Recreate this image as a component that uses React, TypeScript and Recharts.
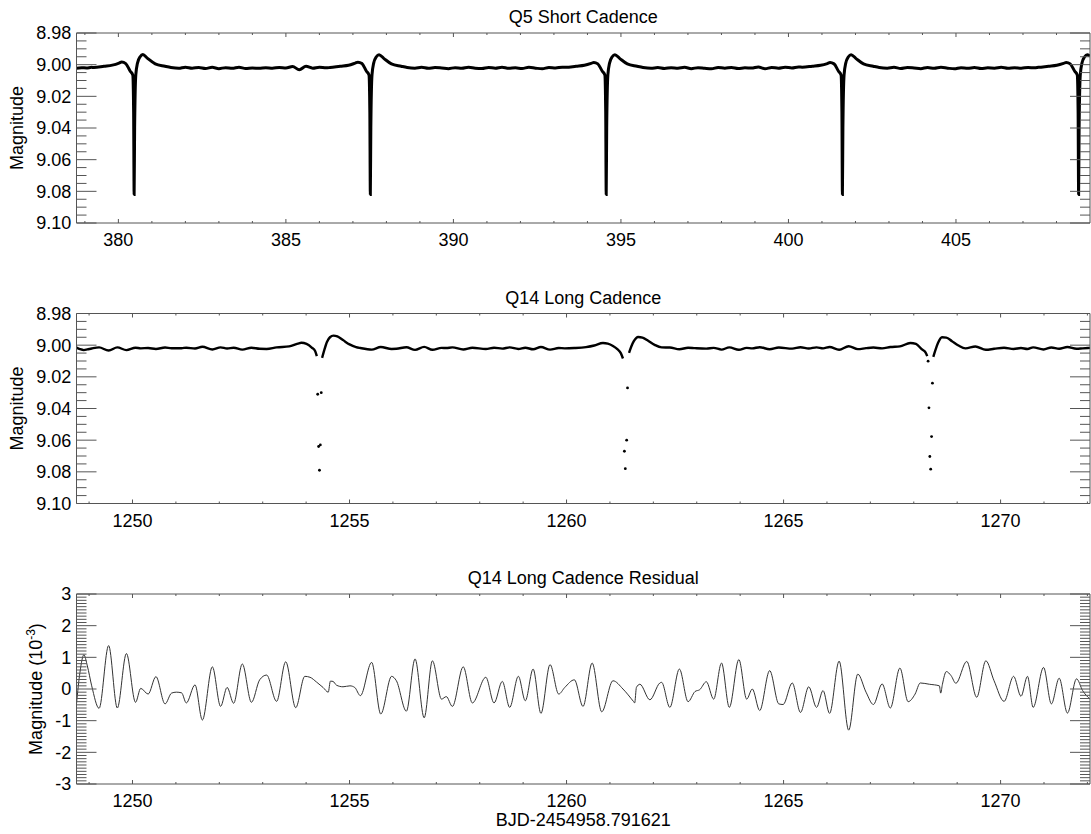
import React from 'react';
import { LineChart, ComposedChart, Line, Scatter, XAxis, YAxis } from 'recharts';

const FONT = "'Liberation Sans', Arial, Helvetica, sans-serif";
const AXIS = '#555';
const W = 1091;

// ---------------- Q5 Short Cadence ----------------
const q5Domain: [number, number] = [378.75, 409.0];
const q5XMajor = [380, 385, 390, 395, 400, 405];
const magDomain: [number, number] = [8.98, 9.1];
const magMajor = [8.98, 9.0, 9.02, 9.04, 9.06, 9.08, 9.1];

const q5Curve: [number, number][] = [
  [378.75, 9.0022], [378.9, 9.0019], [379.05, 9.0021], [379.2, 9.0017],
  [379.27, 9.0018], [379.57, 9.001], [379.82, 9.0003], [380.02, 8.999], [380.1, 8.9983], [380.22, 8.9993],
  [380.35, 9.004], [380.43, 9.0065], [380.455, 9.03], [380.47, 9.082], [380.485, 9.04], [380.52, 9.0065],
  [380.57, 8.999], [380.65, 8.995], [380.73, 8.9936], [380.87, 8.996], [381.1, 8.9995], [381.39, 9.001], [381.57, 9.0018],
  [381.8, 9.0023], [382.0, 9.0016], [382.2, 9.0022], [382.4, 9.0018], [382.6, 9.0024], [382.8, 9.0017],
  [383.0, 9.0025], [383.2, 9.0019], [383.4, 9.0023], [383.6, 9.0016], [383.8, 9.0024], [384.0, 9.0021],
  [384.2, 9.0023], [384.4, 9.0019], [384.6, 9.0022], [384.8, 9.0018], [385.0, 9.0021], [385.2, 9.0012],
  [385.4, 9.0032], [385.6, 9.001], [385.8, 9.0022], [386.0, 9.0016], [386.2, 9.002],
  [386.32, 9.0018], [386.62, 9.001], [386.87, 9.0004], [387.07, 8.999], [387.15, 8.9984], [387.27, 8.9993],
  [387.4, 9.004], [387.48, 9.0065], [387.505, 9.03], [387.52, 9.082], [387.535, 9.04], [387.57, 9.0065],
  [387.62, 8.999], [387.7, 8.995], [387.78, 8.9937], [387.92, 8.996], [388.15, 8.9995], [388.44, 9.001], [388.62, 9.0018],
  [388.85, 9.0022], [389.05, 9.0017], [389.25, 9.0023], [389.45, 9.0018], [389.65, 9.0021], [389.85, 9.0025],
  [390.05, 9.0019], [390.25, 9.0023], [390.45, 9.0017], [390.65, 9.0022], [390.85, 9.0024], [391.05, 9.0018],
  [391.25, 9.0022], [391.45, 9.0016], [391.65, 9.0023], [391.85, 9.002], [392.05, 9.0024], [392.25, 9.0017],
  [392.45, 9.0022], [392.65, 9.0026], [392.85, 9.0018], [393.05, 9.0021], [393.25, 9.0016],
  [393.36, 9.0017], [393.66, 9.001], [393.91, 9.0004], [394.11, 8.9992], [394.19, 8.9986], [394.31, 8.9995],
  [394.44, 9.004], [394.52, 9.0065], [394.545, 9.03], [394.56, 9.082], [394.575, 9.04], [394.61, 9.0065],
  [394.66, 8.999], [394.74, 8.995], [394.82, 8.9937], [394.96, 8.996], [395.19, 8.9995], [395.48, 9.001], [395.66, 9.0018],
  [395.9, 9.0023], [396.1, 9.0018], [396.3, 9.0024], [396.5, 9.0019], [396.7, 9.0022], [396.9, 9.0017],
  [397.1, 9.0025], [397.3, 9.0019], [397.5, 9.0023], [397.7, 9.0026], [397.9, 9.0018], [398.1, 9.0022],
  [398.3, 9.0018], [398.5, 9.0024], [398.7, 9.002], [398.9, 9.0021], [399.1, 9.0014], [399.3, 9.0026],
  [399.5, 9.0018], [399.7, 9.0022], [399.9, 9.0016], [400.1, 9.0021], [400.3, 9.0015],
  [400.41, 9.0016], [400.71, 9.001], [400.96, 9.0004], [401.16, 8.9993], [401.24, 8.9987], [401.36, 8.9995],
  [401.49, 9.004], [401.57, 9.0065], [401.595, 9.03], [401.61, 9.082], [401.625, 9.04], [401.66, 9.0065],
  [401.71, 8.999], [401.79, 8.995], [401.87, 8.9937], [402.01, 8.996], [402.24, 8.9995], [402.53, 9.001], [402.71, 9.0018],
  [402.95, 9.0022], [403.15, 9.0017], [403.35, 9.0024], [403.55, 9.0018], [403.75, 9.0021], [403.95, 9.0025],
  [404.15, 9.0018], [404.35, 9.0023], [404.55, 9.0017], [404.75, 9.0022], [404.95, 9.0026], [405.15, 9.0019],
  [405.35, 9.0023], [405.55, 9.0018], [405.75, 9.0024], [405.95, 9.002], [406.15, 9.0022], [406.35, 9.0017],
  [406.55, 9.0023], [406.75, 9.0019], [406.95, 9.0022], [407.15, 9.0018], [407.35, 9.002],
  [407.46, 9.0017], [407.76, 9.001], [408.01, 9.0004], [408.21, 8.9992], [408.29, 8.9986], [408.41, 8.9995],
  [408.54, 9.004], [408.62, 9.0065], [408.645, 9.03], [408.66, 9.082], [408.675, 9.04], [408.71, 9.0065],
  [408.76, 8.999], [408.84, 8.995], [408.92, 8.9937], [409.0, 8.9945],
];

// ---------------- Q14 Long Cadence ----------------
const q14Domain: [number, number] = [1248.71, 1272.06];
const q14XMajor = [1250, 1255, 1260, 1265, 1270];

const q14Curve: [number, number | null][] = [
  [1248.71, 9.0015], [1248.79, 9.0025], [1248.88, 9.0031], [1248.96, 9.0027], [1249.06, 9.0021], [1249.23, 9.0014],
  [1249.45, 9.0034], [1249.65, 9.0014], [1249.86, 9.0031], [1250.07, 9.0016], [1250.19, 9.002], [1250.36, 9.0018],
  [1250.54, 9.0024], [1250.75, 9.0015], [1250.9, 9.0019], [1251.13, 9.0019], [1251.24, 9.0016], [1251.44, 9.0021],
  [1251.61, 9.001], [1251.84, 9.0027], [1252.03, 9.0014], [1252.18, 9.0021], [1252.33, 9.0016], [1252.53, 9.0028],
  [1252.74, 9.0016], [1252.93, 9.0023], [1253.09, 9.0024], [1253.32, 9.0014],
  [1253.61, 9.0008], [1253.81, 8.999], [1253.89, 8.9985], [1254.01, 8.9992], [1254.13, 9.0015], [1254.21, 9.0038],
  [1254.247, 9.0069], [1254.3, null], [1254.369, 9.008], [1254.42, 9.003], [1254.48, 8.998], [1254.55, 8.995],
  [1254.63, 8.994], [1254.72, 8.9945], [1254.85, 8.9968], [1255.0, 8.9995], [1255.15, 9.0012],
  [1255.25, 9.0018], [1255.51, 9.0028], [1255.72, 9.0012], [1255.97, 9.0024], [1256.08, 9.0023], [1256.31, 9.0013],
  [1256.51, 9.003], [1256.72, 9.0011], [1256.91, 9.0029], [1257.12, 9.0017], [1257.23, 9.0018], [1257.37, 9.0014],
  [1257.62, 9.0027], [1257.83, 9.0016], [1258.14, 9.0024], [1258.33, 9.0016], [1258.52, 9.0022], [1258.69, 9.0014],
  [1258.89, 9.0024], [1259.05, 9.0016], [1259.23, 9.0026], [1259.41, 9.0012], [1259.62, 9.0028], [1259.82, 9.0018],
  [1259.96, 9.002], [1260.18, 9.0018], [1260.45, 9.0012], [1260.64, 9.0002], [1260.84, 8.9986], [1260.95, 8.999],
  [1261.07, 9.0005], [1261.17, 9.0025], [1261.25, 9.005], [1261.3, 9.0084], [1261.37, null], [1261.44, 9.0049],
  [1261.49, 9.001], [1261.55, 8.9975], [1261.65, 8.9948], [1261.75, 8.9952], [1261.88, 8.9972], [1262.03, 8.9998],
  [1262.19, 9.0014], [1262.38, 9.0015],
  [1262.6, 9.0026], [1262.8, 9.0016], [1262.96, 9.0019], [1263.22, 9.0022], [1263.39, 9.0017], [1263.57, 9.0028],
  [1263.75, 9.0014], [1263.97, 9.0029], [1264.15, 9.0017], [1264.28, 9.002], [1264.45, 9.0013], [1264.68, 9.0026],
  [1264.89, 9.0015], [1265.2, 9.0022], [1265.39, 9.0013], [1265.58, 9.0021], [1265.76, 9.0014], [1265.91, 9.002],
  [1266.06, 9.0012], [1266.28, 9.0029], [1266.5, 9.0007], [1266.71, 9.0025], [1266.9, 9.0019], [1267.07, 9.0015],
  [1267.27, 9.002], [1267.46, 9.0012], [1267.68, 9.0008], [1267.92, 8.9986], [1268.05, 8.9992], [1268.19, 9.0027],
  [1268.27, 9.0045], [1268.31, 9.0069], [1268.39, null], [1268.45, 9.0074], [1268.5, 9.003], [1268.56, 8.9985],
  [1268.65, 8.995], [1268.75, 8.9952], [1268.88, 8.9975], [1269.03, 9.0002], [1269.19, 9.002],
  [1269.42, 9.0008], [1269.66, 9.0029], [1269.85, 9.0023], [1270.08, 9.0016], [1270.3, 9.0024], [1270.47, 9.0018],
  [1270.62, 9.0024], [1270.75, 9.0014], [1270.99, 9.0027], [1271.17, 9.0015], [1271.35, 9.0023], [1271.54, 9.0012],
  [1271.75, 9.0023], [1271.89, 9.002], [1272.06, 9.0017],
];

const q14InEclipse: [number, number][] = [
  [1254.267, 9.031], [1254.288, 9.064], [1254.308, 9.079], [1254.328, 9.063], [1254.349, 9.03],
  [1261.333, 9.067], [1261.354, 9.078], [1261.385, 9.06], [1261.405, 9.027],
  [1268.33, 9.0101], [1268.35, 9.0396], [1268.37, 9.0703], [1268.39, 9.0783], [1268.41, 9.0577], [1268.43, 9.024],
];

// ---------------- Q14 Long Cadence Residual (10^-3 mag) ----------------
const resYMajor = [-3, -2, -1, 0, 1, 2, 3];
const residual: [number, number][] = [
  [1248.71, -0.47], [1248.79, 0.53], [1248.88, 1.08], [1248.96, 0.73], [1249.06, 0.1], [1249.23, -0.61],
  [1249.45, 1.37], [1249.65, -0.6], [1249.86, 1.12], [1250.07, -0.42], [1250.19, 0.02], [1250.36, -0.16],
  [1250.54, 0.39], [1250.75, -0.47], [1250.9, -0.13], [1251.01, -0.1], [1251.13, -0.12], [1251.24, -0.44],
  [1251.44, 0.13], [1251.61, -0.98], [1251.84, 0.7], [1252.03, -0.55], [1252.18, 0.05], [1252.33, -0.45],
  [1252.53, 0.79], [1252.74, -0.42], [1252.93, 0.29], [1253.09, 0.44], [1253.32, -0.39], [1253.53, 0.86],
  [1253.76, -0.59], [1253.97, 0.4], [1254.09, 0.37], [1254.24, 0.22], [1254.39, 0.05], [1254.51, -0.1],
  [1254.56, 0.25], [1254.62, 0.24], [1254.7, 0.12], [1254.85, 0.07], [1255.01, 0.1], [1255.12, 0.05],
  [1255.25, -0.21], [1255.51, 0.84], [1255.72, -0.79], [1255.97, 0.4], [1256.08, 0.26], [1256.31, -0.7],
  [1256.51, 0.95], [1256.72, -0.91], [1256.91, 0.89], [1257.12, -0.32], [1257.23, -0.24], [1257.37, -0.55],
  [1257.62, 0.7], [1257.83, -0.44], [1258.14, 0.37], [1258.33, -0.44], [1258.52, 0.24], [1258.69, -0.58],
  [1258.89, 0.4], [1259.05, -0.37], [1259.23, 0.63], [1259.41, -0.77], [1259.62, 0.77], [1259.82, -0.16],
  [1259.96, 0.05], [1260.18, 0.29], [1260.38, -0.55], [1260.59, 0.82], [1260.81, -0.72], [1261.07, 0.26],
  [1261.3, 0.0], [1261.54, -0.39], [1261.57, -0.44], [1261.61, 0.05], [1261.69, 0.15], [1261.92, -0.34],
  [1262.15, 0.19], [1262.19, 0.21], [1262.38, -0.58], [1262.6, 0.63], [1262.8, -0.4], [1262.96, -0.08],
  [1263.07, -0.02], [1263.22, 0.23], [1263.39, -0.32], [1263.57, 0.82], [1263.75, -0.58], [1263.97, 0.93],
  [1264.15, -0.32], [1264.28, 0.0], [1264.45, -0.68], [1264.68, 0.58], [1264.89, -0.47], [1264.99, -0.49],
  [1265.2, 0.19], [1265.39, -0.74], [1265.58, 0.07], [1265.76, -0.58], [1265.91, -0.05], [1266.06, -0.77],
  [1266.28, 0.88], [1266.5, -1.3], [1266.71, 0.47], [1266.9, -0.1], [1267.07, -0.49], [1267.27, 0.16],
  [1267.46, -0.6], [1267.68, 0.66], [1267.87, -0.4], [1268.03, -0.16], [1268.15, 0.19], [1268.36, 0.15],
  [1268.59, 0.1], [1268.62, -0.13], [1268.66, 0.15], [1268.75, 0.55], [1268.86, 0.42], [1268.97, 0.18],
  [1269.22, 0.87], [1269.45, -0.26], [1269.66, 0.89], [1269.85, 0.26], [1270.08, -0.39], [1270.3, 0.4],
  [1270.47, -0.23], [1270.62, 0.4], [1270.75, -0.58], [1270.99, 0.68], [1271.17, -0.47], [1271.35, 0.34],
  [1271.54, -0.76], [1271.75, 0.32], [1271.89, -0.05], [1272.06, -0.32],
];

// ---------------- helpers ----------------
function steps(a: number, b: number, step: number): number[] {
  const out: number[] = [];
  const n = Math.round((b - a) / step);
  for (let i = 0; i <= n; i++) out.push(+(a + i * step).toFixed(6));
  return out;
}
const q5XTicks = steps(379, 408, 1);
const q14XTicks = steps(1249, 1272, 1);
const magTicks = steps(8.98, 9.1, 0.005);
const resTicks = steps(-3, 3, 0.1);

const toObj = (arr: [number, number | null][]) => arr.map(([t, m]) => ({ t, m }));

type Side = 'bottom' | 'top' | 'left' | 'right';
function makeTick(side: Side, majors: number[], majorLen: number, fmt?: (v: number) => string) {
  return (props: any) => {
    const { x, y, payload } = props;
    const v = payload.value as number;
    const major = majors.some((m) => Math.abs(m - v) < 1e-6);
    const len = major ? majorLen : majorLen / 2;
    let x2 = x;
    let y2 = y;
    if (side === 'bottom') y2 = y - len;
    if (side === 'top') y2 = y + len;
    if (side === 'left') x2 = x + len;
    if (side === 'right') x2 = x - len;
    return (
      <g>
        <line x1={x} y1={y} x2={x2} y2={y2} stroke={AXIS} strokeWidth={1} />
        {fmt && major && side === 'bottom' && (
          <text x={x} y={y + 23.4} textAnchor="middle" fontSize={18} fontFamily={FONT} fill="#000">
            {fmt(v)}
          </text>
        )}
        {fmt && major && side === 'left' && (
          <text x={x - 5.3} y={y + 6.4} textAnchor="end" fontSize={18} fontFamily={FONT} fill="#000">
            {fmt(v)}
          </text>
        )}
      </g>
    );
  };
}

const fmt2 = (v: number) => v.toFixed(2);
const fmt0 = (v: number) => String(Math.round(v));
const fmtInt = (v: number) => String(Math.round(v));

function Axes(props: {
  xDomain: [number, number];
  xTicks: number[];
  xMajor: number[];
  yDomain: [number, number];
  yTicks: number[];
  yMajor: number[];
  yFmt: (v: number) => string;
  reversed: boolean;
  bottomH: number;
}) {
  return null;
}

function renderAxes(
  xDomain: [number, number],
  xTicks: number[],
  xMajor: number[],
  yDomain: [number, number],
  yTicks: number[],
  yMajor: number[],
  yFmt: (v: number) => string,
  reversed: boolean,
  bottomH: number
) {
  return [
    <XAxis
      key="xb"
      xAxisId="b"
      type="number"
      dataKey="t"
      domain={xDomain}
      allowDataOverflow
      ticks={xTicks}
      interval={0}
      tickLine={false}
      tickSize={0}
      tickMargin={0}
      tick={makeTick('bottom', xMajor, 4, fmtInt)}
      height={bottomH}
      axisLine={{ stroke: AXIS, strokeWidth: 1 }}
    />,
    <XAxis
      key="xt"
      xAxisId="t"
      orientation="top"
      type="number"
      dataKey="t"
      domain={xDomain}
      allowDataOverflow
      ticks={xTicks}
      interval={0}
      tickLine={false}
      tickSize={0}
      tickMargin={0}
      tick={makeTick('top', xMajor, 4)}
      height={1}
      axisLine={{ stroke: AXIS, strokeWidth: 1 }}
    />,
    <YAxis
      key="yl"
      yAxisId="l"
      type="number"
      domain={yDomain}
      allowDataOverflow
      reversed={reversed}
      ticks={yTicks}
      interval={0}
      tickLine={false}
      tickSize={0}
      tickMargin={0}
      tick={makeTick('left', yMajor, 20, yFmt)}
      width={76.5}
      axisLine={{ stroke: AXIS, strokeWidth: 1 }}
    />,
    <YAxis
      key="yr"
      yAxisId="r"
      orientation="right"
      type="number"
      domain={yDomain}
      allowDataOverflow
      reversed={reversed}
      ticks={yTicks}
      interval={0}
      tickLine={false}
      tickSize={0}
      tickMargin={0}
      tick={makeTick('right', yMajor, 20)}
      width={1}
      axisLine={{ stroke: AXIS, strokeWidth: 1 }}
    />,
  ];
}

const dotShape = (p: any) => <circle cx={p.cx} cy={p.cy} r={1.4} fill="#000" />;

export default function App() {
  const q5Data = toObj(q5Curve);
  const q14Data = toObj(q14Curve);
  const q14Dots = toObj(q14InEclipse);
  const resData = toObj(residual);

  return (
    <div style={{ position: 'absolute', left: 0, top: 0, width: W, height: 834, background: '#fff' }}>
      <div style={{ position: 'absolute', left: 0, top: 0 }}>
        <LineChart width={W} height={260} data={q5Data} margin={{ top: 32, right: 0, bottom: 0, left: 0 }}>
          {renderAxes(q5Domain, q5XTicks, q5XMajor, magDomain, magTicks, magMajor, fmt2, true, 37)}
          <Line
            xAxisId="b"
            yAxisId="l"
            type="monotone"
            dataKey="m"
            stroke="#000"
            strokeWidth={3}
            dot={false}
            activeDot={false}
            isAnimationActive={false}
          />
        </LineChart>
      </div>
      <div style={{ position: 'absolute', left: 0, top: 280 }}>
        <ComposedChart width={W} height={260} data={q14Data} margin={{ top: 32.5, right: 0, bottom: 0, left: 0 }}>
          {renderAxes(q14Domain, q14XTicks, q14XMajor, magDomain, magTicks, magMajor, fmt2, true, 36.5)}
          <Line
            xAxisId="b"
            yAxisId="l"
            type="monotone"
            dataKey="m"
            data={q14Data}
            stroke="#000"
            strokeWidth={2.4}
            dot={false}
            activeDot={false}
            connectNulls={false}
            isAnimationActive={false}
          />
          <Scatter
            xAxisId="b"
            yAxisId="l"
            dataKey="m"
            data={q14Dots}
            shape={dotShape}
            isAnimationActive={false}
          />
        </ComposedChart>
      </div>
      <div style={{ position: 'absolute', left: 0, top: 561 }}>
        <LineChart width={W} height={273} data={resData} margin={{ top: 32, right: 0, bottom: 0, left: 0 }}>
          {renderAxes(q14Domain, q14XTicks, q14XMajor, [-3, 3], resTicks, resYMajor, fmt0, false, 50)}
          <Line
            xAxisId="b"
            yAxisId="l"
            type="monotone"
            dataKey="m"
            stroke="#333"
            strokeWidth={1}
            dot={false}
            activeDot={false}
            isAnimationActive={false}
          />
        </LineChart>
      </div>
      <svg
        width={W}
        height={834}
        style={{ position: 'absolute', left: 0, top: 0, pointerEvents: 'none' }}
        fontFamily={FONT}
        fontSize={18}
        fill="#000"
      >
        <text x={583.25} y={23} textAnchor="middle">Q5 Short Cadence</text>
        <text x={583.25} y={303.5} textAnchor="middle">Q14 Long Cadence</text>
        <text x={583.25} y={584} textAnchor="middle">Q14 Long Cadence Residual</text>
        <text transform="translate(23,128) rotate(-90)" textAnchor="middle">Magnitude</text>
        <text transform="translate(23,408.5) rotate(-90)" textAnchor="middle">Magnitude</text>
        <text transform="translate(42,689) rotate(-90)" textAnchor="middle">
          <tspan>Magnitude (10</tspan>
          <tspan dy={-7} fontSize={12}>-3</tspan>
          <tspan dy={7}>)</tspan>
        </text>
        <text x={583.25} y={826} textAnchor="middle">BJD-2454958.791621</text>
      </svg>
    </div>
  );
}
